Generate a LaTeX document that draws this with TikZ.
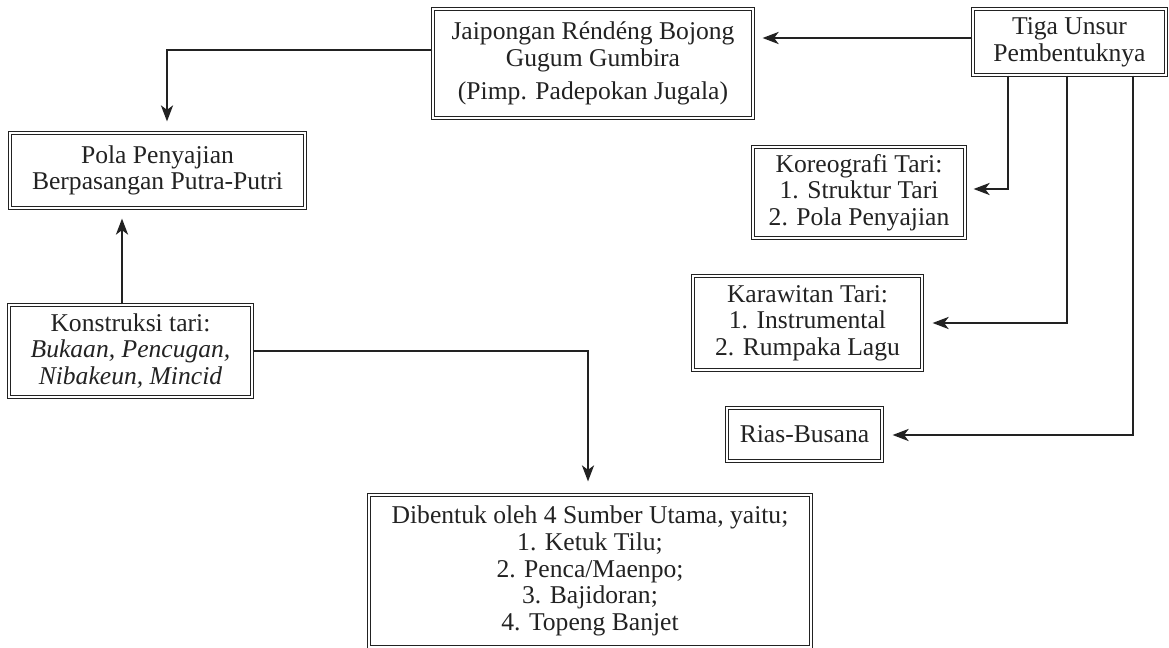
\documentclass[tikz,border=0pt]{standalone}
\usepackage{fontspec}
\setmainfont{Liberation Serif}
\usetikzlibrary{arrows.meta}
\definecolor{ink}{HTML}{222222}
\begin{document}
\begin{tikzpicture}[x=0.5pt,y=-0.5pt,
  box/.style={draw=ink, line width=0.55pt, double=white, double distance=0.8pt,
    align=center, inner sep=0pt, font=\fontsize{12.8}{13.3}\selectfont, text=ink},
  arr/.style={draw=ink, line width=1.3pt,
    -{Stealth[length=8pt,width=6pt,inset=2.2pt]}}]
\useasboundingbox (0,0) rectangle (1169,648);
\node[box, minimum width=320*0.5pt, minimum height=109*0.5pt] (jai) at (593,63.5)
  {Jaipongan Réndéng Bojong\\Gugum Gumbira\\[3.5pt](Pimp. Padepokan Jugala)};
\node[box, minimum width=193*0.5pt, minimum height=66*0.5pt] (tiga) at (1069.5,42)
  {Tiga Unsur\\Pembentuknya};
\node[box, minimum width=295*0.5pt, minimum height=75*0.5pt] (pola) at (157.5,170.5)
  {Pola Penyajian\\Berpasangan Putra-Putri};
\node[box, minimum width=243*0.5pt, minimum height=92*0.5pt] (kon) at (130.5,351)
  {Konstruksi tari:\\\textit{Bukaan, Pencugan,}\\\textit{Nibakeun, Mincid}};
\node[box, minimum width=442*0.5pt, minimum height=152*0.5pt] (dib) at (590,571)
  {Dibentuk oleh 4 Sumber Utama, yaitu;\\1. Ketuk Tilu;\\2. Penca/Maenpo;\\3. Bajidoran;\\4. Topeng Banjet};
\node[box, minimum width=212*0.5pt, minimum height=91*0.5pt] (kor) at (859,192.5)
  {Koreografi Tari:\\1. Struktur Tari\\2. Pola Penyajian};
\node[box, minimum width=229*0.5pt, minimum height=94*0.5pt] (kar) at (807.5,323)
  {Karawitan Tari:\\1. Instrumental\\2. Rumpaka Lagu};
\node[box, minimum width=155*0.5pt, minimum height=53*0.5pt] (rias) at (804.5,434.5)
  {Rias-Busana};
\draw[arr, shorten >=4.5pt] (tiga.west |- 0,38) -- (jai.east |- 0,38);
\draw[arr, shorten >=5.5pt] (jai.west |- 0,50) -| (pola.north -| 167,0);
\draw[arr, shorten >=5pt] (kon.north -| 122,0) -- (pola.south -| 122,0);
\draw[arr, shorten >=6.5pt] (kon.east |- 0,351) -| (dib.north -| 588,0);
\draw[arr, shorten >=4pt] (tiga.south -| 1008,0) |- (kor.east |- 0,189);
\draw[arr, shorten >=5pt] (tiga.south -| 1067,0) |- (kar.east |- 0,323);
\draw[arr, shorten >=5pt] (tiga.south -| 1133,0) |- (rias.east |- 0,435);
\end{tikzpicture}
\end{document}
